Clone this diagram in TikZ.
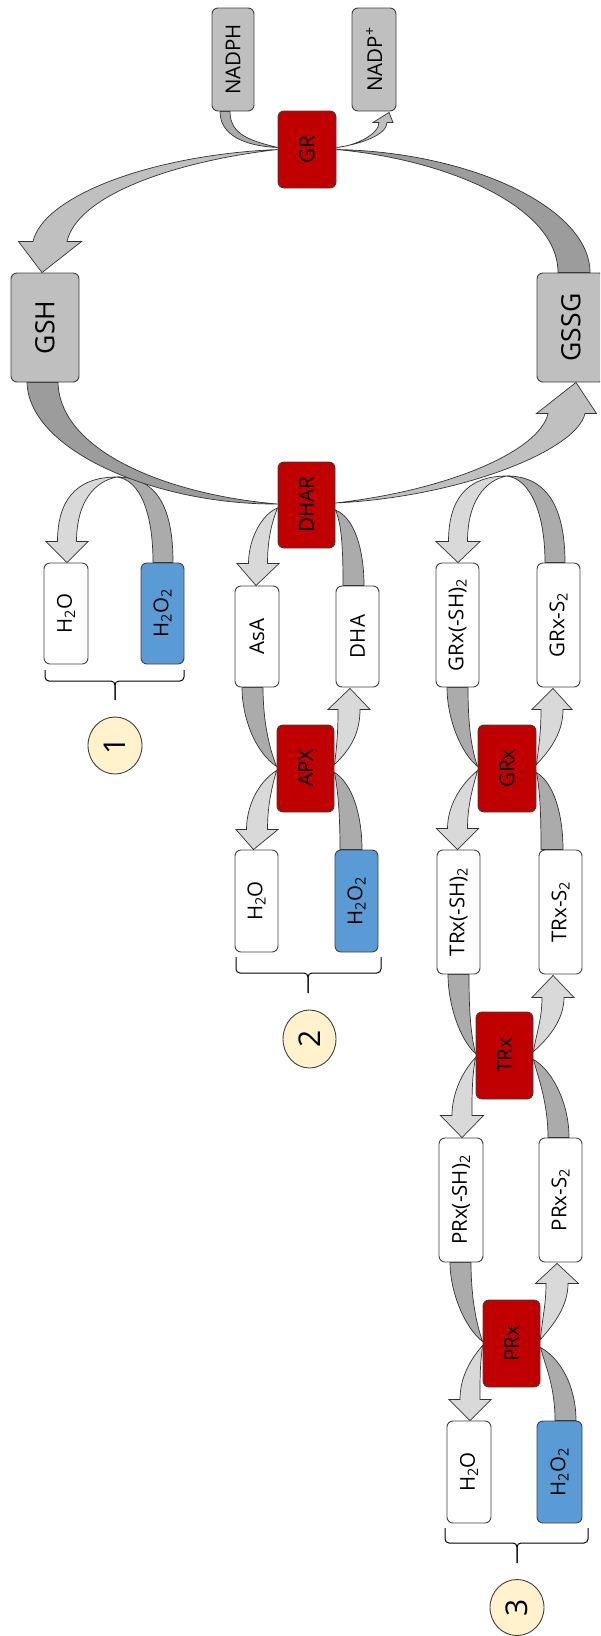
\documentclass[tikz,border=0pt]{standalone}
\usepackage{fontspec}
\setmainfont{Open Sans}
\usetikzlibrary{calc,shapes.geometric}
\pgfdeclarelayer{background}
\pgfsetlayers{background,main}

\definecolor{enzred}{HTML}{C00000}
\definecolor{poolgrey}{HTML}{BFBFBF}
\definecolor{peroxblue}{HTML}{5B9BD5}
\definecolor{tagfill}{HTML}{FFF2CC}
\definecolor{bigdark}{HTML}{9C9C9C}
\definecolor{biglight}{HTML}{C0C0C0}
\definecolor{smalldark}{HTML}{ABABAB}
\definecolor{smalllight}{HTML}{D9D9D9}

\newcommand\smallfont{\fontsize{20.5}{24}\selectfont}
\newcommand\bigfont{\fontsize{26.5}{30}\selectfont}
\newcommand\tagfont{\fontsize{30}{34}\selectfont}

% tapered band: style, pinch point, control (left edge), control (right edge),
% wide-end centre, half width, control offset at the wide end
\newcommand\band[7]{%
  \filldraw[#1] (#2) .. controls (#3) and ($(#5)+(-#6,0)+(#7)$) .. ($(#5)+(-#6,0)$)
    -- ($(#5)+(#6,0)$) .. controls ($(#5)+(#6,0)+(#7)$) and (#4) .. (#2) -- cycle;}

% tapered band ending in a broad arrow head: style, pinch point, control (left edge),
% control (right edge), tip, base offset from tip, half width, control offset at base, head half width
\newcommand\arrowband[9]{%
  \filldraw[#1] (#2) .. controls (#3) and ($(#5)+(#6)+(-#7,0)+(#8)$) .. ($(#5)+(#6)+(-#7,0)$)
    -- ($(#5)+(#6)+(-#9,0)$) -- (#5) -- ($(#5)+(#6)+(#9,0)$) -- ($(#5)+(#6)+(#7,0)$)
    .. controls ($(#5)+(#6)+(#7,0)+(#8)$) and (#4) .. (#2) -- cycle;}

\tikzset{
  box/.style={draw=black!75, line width=0.9pt, rounded corners=6pt, inner sep=0pt, font=\smallfont},
  enzyme/.style={box, fill=enzred},
  pool/.style={box, fill=poolgrey},
  metab/.style={box, fill=white},
  perox/.style={box, fill=peroxblue},
  tag/.style={ellipse, draw=black!75, line width=0.9pt, fill=tagfill, inner sep=0pt, font=\tagfont},
  dk/.style={fill=bigdark, draw=black!80, line width=0.7pt},
  lt/.style={fill=biglight, draw=black!80, line width=0.7pt},
  sdk/.style={fill=smalldark, draw=black!80, line width=0.7pt},
  slt/.style={fill=smalllight, draw=black!80, line width=0.7pt},
  bracket/.style={draw=black, line width=1pt, rounded corners=4pt},
}

\begin{document}
\begin{tikzpicture}[x=1pt,y=-1pt]
\path[use as bounding box] (0,0) rectangle (600,1636);
\clip (0,0) rectangle (600,1636);

% glutathione cycle
\node[pool, minimum width=42, minimum height=103] (NADPH) at (233,59.5) {\rotatebox{90}{NADPH}};
\node[pool, minimum width=44, minimum height=103] (NADPp) at (374,59.5) {\rotatebox{90}{NADP\textsuperscript{+}}};
\node[enzyme, minimum width=58, minimum height=77] (GR) at (307,149.5) {\rotatebox{90}{GR}};
\node[pool, font=\bigfont, minimum width=68, minimum height=109] (GSH) at (45,327.5) {\rotatebox{90}{GSH}};
\node[pool, font=\bigfont, minimum width=68, minimum height=109] (GSSG) at (571,327.5) {\rotatebox{90}{GSSG}};
\node[enzyme, minimum width=57, minimum height=86] (DHAR) at (306.5,505) {\rotatebox{90}{DHAR}};

% route 1
\node[metab, minimum width=44, minimum height=101] (H2Oa) at (66,613.5) {\rotatebox{90}{H\textsubscript{2}O}};
\node[perox, minimum width=43, minimum height=101] (H2O2a) at (162.5,613.5) {\rotatebox{90}{H\textsubscript{2}O\textsubscript{2}}};

% route 2
\node[metab, minimum width=44, minimum height=101] (AsA) at (257,636.5) {\rotatebox{90}{AsA}};
\node[metab, minimum width=43, minimum height=101] (DHA) at (357.5,636.5) {\rotatebox{90}{DHA}};
\node[enzyme, minimum width=57, minimum height=87] (APX) at (305.5,768.5) {\rotatebox{90}{APX}};
\node[metab, minimum width=43, minimum height=102] (H2Ob) at (256.5,901) {\rotatebox{90}{H\textsubscript{2}O}};
\node[perox, minimum width=43, minimum height=102] (H2O2b) at (356.5,901) {\rotatebox{90}{H\textsubscript{2}O\textsubscript{2}}};

% route 3
\node[metab, minimum width=43, minimum height=124] (GRxSH) at (457.5,625) {\rotatebox{90}{GRx(-SH)\textsubscript{2}}};
\node[metab, minimum width=43, minimum height=124] (GRxS) at (558.5,625) {\rotatebox{90}{GRx-S\textsubscript{2}}};
\node[enzyme, minimum width=58, minimum height=87] (GRx) at (507,768.5) {\rotatebox{90}{GRx}};
\node[metab, minimum width=43, minimum height=124] (TRxSH) at (458.5,912) {\rotatebox{90}{TRx(-SH)\textsubscript{2}}};
\node[metab, minimum width=43, minimum height=124] (TRxS) at (560.5,912) {\rotatebox{90}{TRx-S\textsubscript{2}}};
\node[enzyme, minimum width=57, minimum height=87] (TRx) at (504.5,1055.5) {\rotatebox{90}{TRx}};
\node[metab, minimum width=44, minimum height=124] (PRxSH) at (461,1200) {\rotatebox{90}{PRx(-SH)\textsubscript{2}}};
\node[metab, minimum width=43, minimum height=124] (PRxS) at (560.5,1200) {\rotatebox{90}{PRx-S\textsubscript{2}}};
\node[enzyme, minimum width=57, minimum height=87] (PRx) at (511.5,1343.5) {\rotatebox{90}{PRx}};
\node[metab, minimum width=44, minimum height=102] (H2Oc) at (469,1472) {\rotatebox{90}{H\textsubscript{2}O}};
\node[perox, minimum width=45, minimum height=102] (H2O2c) at (559.5,1472) {\rotatebox{90}{H\textsubscript{2}O\textsubscript{2}}};

% route labels
\node[tag, minimum width=54, minimum height=57] (T1) at (115,745.5) {\rotatebox{90}{1}};
\node[tag, minimum width=53, minimum height=58] (T2) at (309.5,1039) {\rotatebox{90}{2}};
\node[tag, minimum width=54, minimum height=56] (T3) at (517,1607.5) {\rotatebox{90}{3}};

% brackets grouping each route's peroxide pair
\draw[bracket] (45,670) |- (115,681) -- (115,700);
\draw[bracket] (184,670) |- (115,681) -- (115,700);
\draw[bracket] (236,957) |- (308,973) -- (308,993);
\draw[bracket] (381,957) |- (308,973) -- (308,993);
\draw[bracket] (445,1528) |- (517,1543) -- (517,1563);
\draw[bracket] (588,1528) |- (517,1543) -- (517,1563);

\coordinate (apex1) at (117,477);
\coordinate (apex3) at (507,476);

\begin{pgfonlayer}{background}
% side loops touching the cycle
\band{sdk}{apex1}{140,480}{160,477}{$(H2O2a.north)+(0.5,0)$}{10}{0,-50}
\arrowband{slt}{apex1}{75,477}{95,481}{$(H2Oa.north)+(1,0)$}{0,-21}{9.5}{0,-40}{21}
\band{sdk}{apex3}{530,479}{550,476}{$(GRxS.north)+(-3.5,0)$}{10}{0,-50}
\arrowband{slt}{apex3}{465,476}{485,480}{$(GRxSH.north)+(0.5,0)$}{0,-21}{9.5}{0,-40}{22}

% main cycle
\band{dk}{GR.east}{450,160}{470,152}{$(GSSG.north)+(3,0)$}{16}{0,-65}
\arrowband{lt}{GR.west}{150,155}{170,162}{$(GSH.north)+(-3,0)$}{8,-31}{17}{10,-45}{31.5}
\band{dk}{$(DHAR.west)+(0,-1)$}{160,505}{170,495}{$(GSH.south)+(-2.5,0)$}{15.5}{2,70}
\arrowband{lt}{$(DHAR.east)+(0,-2)$}{450,490}{460,497}{$(GSSG.south)+(5,0)$}{-9.5,31}{18.5}{-8,37}{30}

% NADPH / NADP+
\band{sdk}{$(GR.west)+(0,-2)$}{245,146}{252,141}{$(NADPH.south)+(-8,0)$}{5}{0,24}
\arrowband{lt}{$(GR.east)+(0,-2)$}{355,146}{362,144}{$(NADPp.south)+(15,1)$}{-6,10}{4}{0,12}{10}

% DHAR
\arrowband{slt}{$(DHAR.west)+(0,3)$}{262,514}{272,522}{$(AsA.north)+(-1,0)$}{2,-22}{9.5}{0,-25}{21}
\band{sdk}{$(DHAR.east)+(0,5)$}{342,525}{355,518}{$(DHA.north)+(-4,0)$}{10.5}{0,-35}

% APX
\band{sdk}{$(APX.west)+(0,-2)$}{255,752}{268,745}{$(AsA.south)+(-4.5,0)$}{10.5}{0,30}
\arrowband{slt}{$(APX.west)+(0,2)$}{257,783}{271,790}{$(H2Ob.north)+(-3,0)$}{3.5,-20}{10.5}{0,-22}{21}
\arrowband{slt}{$(APX.east)+(0,-4)$}{337,745}{352,748}{$(DHA.south)+(-7.5,1)$}{-1,21}{11}{0,22}{21}
\band{sdk}{$(APX.east)+(0,4)$}{338,790}{352,783}{$(H2O2b.north)+(-5.5,0)$}{11}{0,-35}

% GRx
\band{sdk}{$(GRx.west)+(0,-2)$}{460,752}{470,745}{GRxSH.south}{10.5}{0,30}
\arrowband{slt}{$(GRx.west)+(0,2)$}{460,785}{472,790}{$(TRxSH.north)+(-1,0)$}{0,-21}{10}{0,-22}{21}
\arrowband{slt}{$(GRx.east)+(0,-4)$}{539,745}{552,748}{$(GRxS.south)+(-5.5,1)$}{-1,21}{11}{0,22}{20}
\band{sdk}{$(GRx.east)+(0,4)$}{540,790}{554,783}{$(TRxS.north)+(-8.5,0)$}{11}{0,-35}

% TRx
\band{sdk}{$(TRx.west)+(0,-2)$}{460,1040}{470,1032}{TRxSH.south}{10.5}{0,30}
\arrowband{slt}{$(TRx.west)+(0,2)$}{462,1072}{472,1077}{$(PRxSH.north)+(1,0)$}{0,-22}{10}{0,-22}{21.5}
\arrowband{slt}{$(TRx.east)+(0,-4)$}{536,1035}{549,1038}{$(TRxS.south)+(-7.5,1)$}{0,22}{11}{0,22}{21}
\band{sdk}{$(TRx.east)+(0,4)$}{538,1077}{552,1070}{$(PRxS.north)+(-2,0)$}{10.5}{0,-35}

% PRx
\band{sdk}{$(PRx.west)+(0,-2)$}{465,1328}{475,1320}{$(PRxSH.south)+(-0.5,0)$}{10.5}{0,30}
\arrowband{slt}{$(PRx.west)+(0,2)$}{470,1360}{480,1365}{$(H2Oc.north)+(1,0)$}{0,-21}{10}{0,-22}{21}
\arrowband{slt}{$(PRx.east)+(0,-4)$}{542,1320}{555,1323}{$(PRxS.south)+(-3.5,1)$}{0,20}{11}{0,22}{21.5}
\band{sdk}{$(PRx.east)+(0,4)$}{545,1365}{560,1358}{$(H2O2c.north)+(6,0)$}{10.5}{0,-35}
\end{pgfonlayer}
\end{tikzpicture}
\end{document}
